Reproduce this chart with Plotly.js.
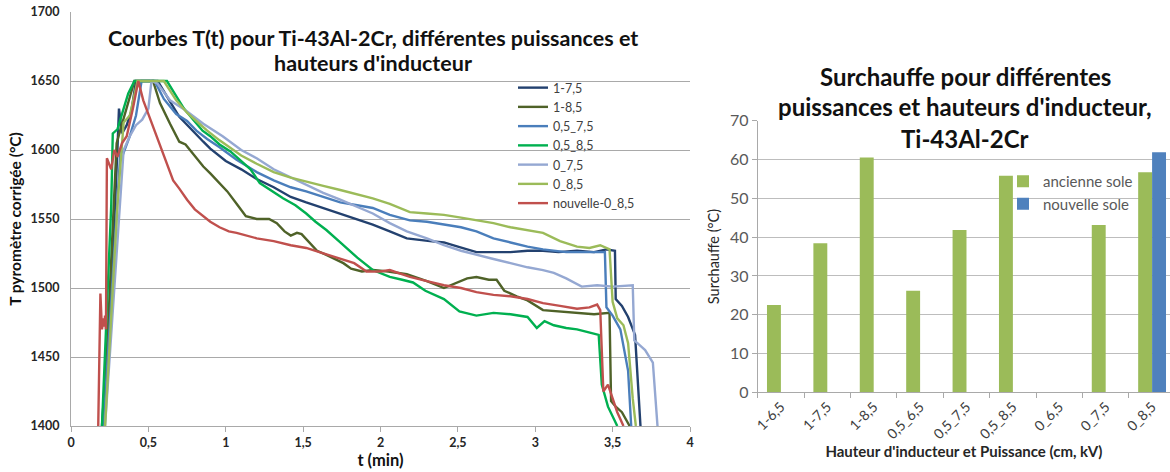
<!DOCTYPE html>
<html>
<head>
<meta charset="utf-8">
<script src="https://cdn.plot.ly/plotly-3.0.1.min.js"></script>
<style>html,body{margin:0;padding:0;background:#fff;}#chart{width:1170px;height:472px;}</style>
</head>
<body>
<div id="chart"></div>
<script>
// ---- Left chart: T(t) curves ----
const seriesNames = ["1-7,5", "1-8,5", "0,5_7,5", "0,5_8,5", "0_7,5", "0_8,5", "nouvelle-0_8,5"];

const t_1_75 = [0.20,0.26,0.30,0.31,0.33,0.36,0.39,0.42,0.56,0.60,0.64,0.70,0.75,0.80,0.855,0.90,0.96,1.00,1.10,1.20,1.31,1.42,1.52,1.63,1.74,1.85,1.95,2.06,2.17,2.32,2.41,2.50,2.62,2.73,2.84,2.95,3.05,3.15,3.27,3.38,3.46,3.515,3.52,3.56,3.60,3.645,3.66,3.68];
const T_1_75 = [1400,1500,1600,1630,1612,1618,1628,1650,1650,1642,1635,1624,1618,1612,1606,1601,1596,1592,1586,1579,1573,1566,1562,1558,1554,1550,1546,1541,1536,1534,1533,1530,1526,1526,1526,1527,1527,1526,1527,1526,1528,1527,1492,1487,1479,1466,1440,1400];

const t_1_85 = [0.21,0.27,0.295,0.32,0.36,0.41,0.53,0.575,0.64,0.70,0.74,0.77,0.81,0.855,0.90,0.96,1.01,1.07,1.13,1.20,1.28,1.33,1.38,1.42,1.46,1.49,1.53,1.59,1.65,1.70,1.76,1.81,1.88,1.95,2.05,2.17,2.30,2.41,2.50,2.56,2.62,2.70,2.75,2.80,2.88,2.95,3.05,3.15,3.27,3.38,3.48,3.49,3.52,3.56,3.61];
const T_1_85 = [1400,1540,1605,1615,1630,1650,1650,1634,1619,1606,1604,1600,1594,1588,1583,1576,1570,1561,1552,1550,1550,1547,1541,1538,1540,1539,1534,1527,1524,1521,1518,1514,1512,1513,1512,1510,1505,1500,1504,1507,1508,1506,1506,1498,1494,1491,1484,1483,1482,1481,1482,1418,1414,1410,1400];

const t_05_75 = [0.21,0.28,0.32,0.34,0.38,0.42,0.456,0.54,0.60,0.68,0.75,0.81,0.88,0.96,1.07,1.20,1.31,1.42,1.52,1.63,1.74,1.85,1.95,2.06,2.19,2.30,2.41,2.52,2.62,2.73,2.84,2.95,3.05,3.20,3.35,3.45,3.46,3.50,3.55,3.60,3.62];
const T_05_75 = [1400,1530,1600,1598,1610,1625,1650,1650,1637,1626,1621,1614,1608,1602,1593,1584,1578,1573,1570,1566,1562,1560,1558,1553,1549,1548,1546,1544,1541,1536,1533,1530,1528,1526,1526,1526,1486,1480,1470,1440,1400];

const t_05_85 = [0.20,0.26,0.27,0.30,0.34,0.37,0.41,0.62,0.68,0.73,0.79,0.85,0.90,0.96,1.03,1.10,1.16,1.22,1.30,1.37,1.45,1.52,1.58,1.65,1.74,1.85,1.95,2.06,2.14,2.21,2.29,2.41,2.51,2.62,2.73,2.84,2.95,3.01,3.06,3.12,3.20,3.27,3.34,3.41,3.43,3.47,3.53];
const T_05_85 = [1400,1560,1612,1615,1630,1641,1650,1650,1639,1630,1622,1614,1610,1604,1599,1592,1586,1576,1570,1565,1560,1554,1548,1542,1533,1522,1513,1508,1506,1504,1498,1492,1483,1480,1482,1481,1479,1471,1476,1473,1471,1470,1468,1466,1430,1414,1400];

const t_0_75 = [0.22,0.30,0.34,0.38,0.42,0.46,0.50,0.52,0.56,0.64,0.75,0.855,0.98,1.10,1.20,1.31,1.42,1.52,1.63,1.74,1.85,1.95,2.06,2.17,2.30,2.41,2.52,2.62,2.73,2.84,2.95,3.05,3.12,3.20,3.30,3.40,3.50,3.63,3.64,3.68,3.71,3.76,3.79];
const T_0_75 = [1400,1530,1600,1610,1618,1622,1630,1650,1648,1636,1628,1619,1610,1600,1594,1586,1580,1575,1569,1564,1559,1554,1547,1541,1536,1531,1527,1524,1521,1518,1515,1513,1511,1507,1501,1502,1501,1502,1462,1458,1455,1446,1400];

const t_0_85 = [0.22,0.30,0.34,0.38,0.43,0.60,0.68,0.75,0.81,0.88,0.96,1.10,1.20,1.31,1.42,1.52,1.63,1.74,1.85,1.95,2.06,2.19,2.30,2.41,2.52,2.62,2.73,2.84,2.95,3.05,3.16,3.27,3.35,3.42,3.48,3.50,3.53,3.57,3.60,3.63,3.65];
const T_0_85 = [1400,1560,1620,1625,1650,1650,1636,1627,1621,1614,1607,1596,1590,1584,1580,1577,1574,1571,1568,1565,1561,1555,1554,1553,1551,1549,1547,1544,1542,1540,1534,1530,1529,1531,1528,1490,1478,1473,1460,1420,1400];

const t_nouv = [0.176,0.19,0.20,0.21,0.215,0.22,0.226,0.232,0.26,0.28,0.30,0.33,0.36,0.40,0.435,0.467,0.50,0.53,0.57,0.60,0.63,0.66,0.70,0.75,0.80,0.855,0.90,0.96,1.02,1.07,1.13,1.20,1.31,1.42,1.52,1.63,1.74,1.83,1.91,2.00,2.06,2.19,2.30,2.41,2.52,2.62,2.73,2.84,2.95,3.05,3.16,3.27,3.35,3.40,3.42,3.44,3.47,3.50,3.53,3.57];
const T_nouv = [1400,1496,1470,1478,1472,1480,1470,1594,1586,1600,1595,1605,1610,1630,1650,1636,1626,1617,1605,1595,1586,1578,1572,1564,1557,1552,1548,1544,1541,1540,1538,1536,1534,1531,1529,1525,1521,1518,1512,1512,1513,1508,1505,1502,1500,1497,1495,1494,1492,1489,1487,1485,1486,1488,1484,1425,1430,1420,1410,1400];

// ---- Right chart: overheating bars ----
const categories = ["1-6,5", "1-7,5", "1-8,5", "0,5_6,5", "0,5_7,5", "0,5_8,5", "0_6,5", "0_7,5", "0_8,5"];
const ancienneSole = [22.5, 38.4, 60.5, 26.2, 41.8, 55.8, null, 43.1, 56.7];
const nouvelleSole = [null, null, null, null, null, null, null, null, 61.9];

const lineX = [t_1_75, t_1_85, t_05_75, t_05_85, t_0_75, t_0_85, t_nouv];
const lineY = [T_1_75, T_1_85, T_05_75, T_05_85, T_0_75, T_0_85, T_nouv];
const lineColors = ["#23416F", "#4F6228", "#4A7EBB", "#00B050", "#95A8D2", "#9BBB59", "#C0504D"];

const FONT = "Lato, 'Liberation Sans', sans-serif";
const W = 1170, H = 472;
const px = v => v / W;
const py = v => 1 - v / H;

const traces = [];
for (let i = 0; i < seriesNames.length; i++) {
  traces.push({
    type: "scatter", mode: "lines", name: seriesNames[i],
    x: lineX[i], y: lineY[i], xaxis: "x", yaxis: "y",
    line: {color: lineColors[i], width: 2.4},
    legend: "legend"
  });
}
traces.push({type: "bar", name: "ancienne sole", x: categories, y: ancienneSole,
  xaxis: "x2", yaxis: "y2", marker: {color: "#9BBB59"}, legend: "legend2"});
traces.push({type: "bar", name: "nouvelle sole", x: categories, y: nouvelleSole,
  xaxis: "x2", yaxis: "y2", marker: {color: "#4F81BD"}, legend: "legend2"});

const gridC = "#A9A9A9";
const layout = {
  width: W, height: H,
  margin: {l: 0, r: 0, t: 0, b: 0},
  paper_bgcolor: "#ffffff", plot_bgcolor: "#ffffff",
  separators: ", ",
  font: {family: FONT, color: "#262626"},
  barmode: "group", bargap: 0.4, bargroupgap: 0,
  showlegend: true,
  xaxis: {
    domain: [px(71), px(690)], anchor: "y", range: [0, 4], dtick: 0.5,
    showgrid: false, zeroline: false, showline: true, linecolor: gridC, linewidth: 1,
    ticks: "outside", ticklen: 5, tickcolor: gridC,
    tickfont: {family: FONT, size: 12.5, color: "#262626", weight: 700},
    title: {text: "t (min)", font: {family: FONT, size: 16.5, weight: 700, color: "#111"}, standoff: 3}
  },
  yaxis: {
    domain: [py(426), py(12)], anchor: "x", range: [1400, 1700], dtick: 50,
    showgrid: true, gridcolor: gridC, gridwidth: 1, zeroline: false,
    showline: true, linecolor: gridC, ticks: "", ticklabelstandoff: 8,
    tickfont: {family: FONT, size: 12.5, color: "#262626", weight: 700},
    title: {text: "T pyromètre corrigée (°C)", font: {family: FONT, size: 15.5, weight: 700, color: "#111"}, standoff: 5}
  },
  xaxis2: {
    domain: [px(757.7), 1], anchor: "y2", type: "category", range: [-0.5, 8.386],
    showgrid: false, zeroline: false, showline: true, linecolor: gridC,
    ticks: "outside", ticklen: 5, tickcolor: gridC, tickson: "boundaries",
    tickangle: -45, tickfont: {family: FONT, size: 14, color: "#404040"},
    title: {text: "Hauteur d'inducteur et Puissance (cm, kV)", font: {family: FONT, size: 15, weight: 700, color: "#262626"}, standoff: 2}
  },
  yaxis2: {
    domain: [py(392.3), py(120.7)], anchor: "x2", range: [0, 70], dtick: 10,
    showgrid: true, gridcolor: "#BDBDBD", zeroline: false,
    showline: true, linecolor: gridC, ticks: "outside", ticklen: 5, tickcolor: gridC,
    tickfont: {family: FONT, size: 16, color: "#595959"},
    title: {text: "Surchauffe (°C)", font: {family: FONT, size: 14.5, color: "#262626"}, standoff: 6}
  },
  legend: {
    x: px(513), y: py(73), xanchor: "left", yanchor: "top",
    bgcolor: "rgba(0,0,0,0)", borderwidth: 0,
    font: {family: FONT, size: 12.5, color: "#404040"},
    itemwidth: 30, tracegroupgap: 0
  },
  legend2: {
    x: px(1003), y: py(165), xanchor: "left", yanchor: "top",
    bgcolor: "rgba(0,0,0,0)", borderwidth: 0,
    font: {family: FONT, size: 15, color: "#595959"},
    itemwidth: 30
  },
  annotations: [
    {text: "Courbes T(t) pour Ti-43Al-2Cr, différentes puissances et", x: px(373), y: py(38),
     xref: "paper", yref: "paper", xanchor: "center", yanchor: "middle", showarrow: false,
     font: {family: FONT, size: 21.5, weight: 700, color: "#111"}},
    {text: "hauteurs d'inducteur", x: px(373), y: py(63),
     xref: "paper", yref: "paper", xanchor: "center", yanchor: "middle", showarrow: false,
     font: {family: FONT, size: 21.5, weight: 700, color: "#111"}},
    {text: "Surchauffe pour différentes", x: px(965), y: py(76),
     xref: "paper", yref: "paper", xanchor: "center", yanchor: "middle", showarrow: false,
     bgcolor: "#ffffff", borderpad: 2,
     font: {family: FONT, size: 24, weight: 700, color: "#111"}},
    {text: "puissances et hauteurs d'inducteur,", x: px(965), y: py(107),
     xref: "paper", yref: "paper", xanchor: "center", yanchor: "middle", showarrow: false,
     bgcolor: "#ffffff", borderpad: 2,
     font: {family: FONT, size: 24, weight: 700, color: "#111"}},
    {text: "Ti-43Al-2Cr", x: px(965), y: py(138),
     xref: "paper", yref: "paper", xanchor: "center", yanchor: "middle", showarrow: false,
     bgcolor: "#ffffff", borderpad: 2,
     font: {family: FONT, size: 24, weight: 700, color: "#111"}}
  ]
};

Plotly.newPlot("chart", traces, layout, {staticPlot: true, displayModeBar: false});
</script>
</body>
</html>
